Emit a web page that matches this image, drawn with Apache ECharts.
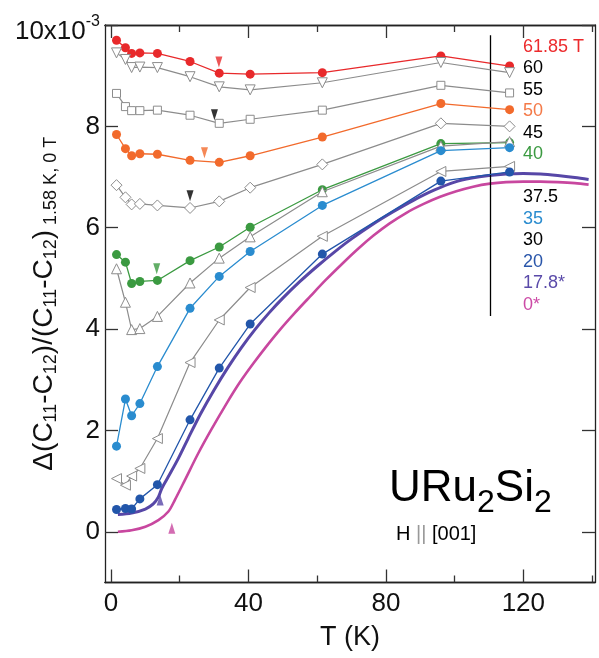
<!DOCTYPE html>
<html><head><meta charset="utf-8">
<script src="https://cdn.jsdelivr.net/npm/echarts@6/dist/echarts.min.js"></script>
<style>html,body{margin:0;padding:0;background:#fff}#c{width:599px;height:658px}</style>
</head><body><div id="c"></div>
<script>
// ---------- data (values in units of 1e-3) ----------
const temps = [1.6, 4.2, 6, 8.4, 13.5, 23, 31.5, 40.5, 61.5, 96, 116];
const h61_85 = [9.70, 9.55, 9.44, 9.45, 9.44, 9.28, 9.05, 9.03, 9.06, 9.39, 9.19];
const h60    = [9.45, 9.32, 9.16, 9.17, 9.16, 8.98, 8.78, 8.72, 8.86, 9.26, 9.06];
const h55    = [8.65, 8.39, 8.31, 8.31, 8.32, 8.22, 8.06, 8.14, 8.32, 8.81, 8.66];
const h50    = [7.84, 7.56, 7.42, 7.46, 7.45, 7.33, 7.29, 7.42, 7.79, 8.45, 8.33];
const h45    = [6.84, 6.60, 6.46, 6.47, 6.44, 6.39, 6.52, 6.79, 7.25, 8.06, 8.00];
const h40    = [5.47, 5.32, 4.90, 4.94, 4.96, 5.35, 5.62, 6.01, 6.75, 7.66, 7.68];
const h37_5  = [5.19, 4.53, 3.99, 4.01, 4.25, 4.91, 5.40, 5.82, 6.71, 7.61, 7.70];
const h35    = [1.69, 2.62, 2.29, 2.53, 3.26, 4.41, 5.04, 5.53, 6.44, 7.52, 7.58];
const h30    = [1.05, 0.92, 1.10, 1.25, 1.84, 3.34, 4.18, 4.82, 5.83, 7.11, 7.21];
const h20    = [0.44, 0.46, 0.45, 0.65, 0.93, 2.21, 3.23, 4.10, 5.48, 6.92, 7.10];

const curveT17_8 = [2, 6, 10, 12.3, 13.8, 14.8, 16.7, 19.6, 22.5, 26, 30, 34, 38, 42, 46, 50, 55, 60, 65, 70, 76, 82, 88, 94, 100, 105, 110, 115, 120, 125, 130, 135, 139];
const curveY17_8 = [0.34, 0.37, 0.45, 0.55, 0.69, 0.86, 1.09, 1.45, 1.85, 2.32, 2.80, 3.24, 3.64, 4.00, 4.32, 4.61, 4.94, 5.24, 5.52, 5.78, 6.06, 6.31, 6.54, 6.74, 6.90, 6.98, 7.03, 7.06, 7.07, 7.06, 7.03, 6.99, 6.95];
const curveT0 = [2, 6, 10, 13.8, 16.7, 18.6, 21.5, 25.4, 29.3, 33.7, 37.5, 41.4, 45, 49.2, 53.5, 57.9, 62.5, 67.6, 72, 76.3, 81, 86.1, 91, 95.8, 100.5, 105.4, 110.3, 115, 120, 125, 130, 135, 139];
const curveY0 = [0.0, 0.03, 0.10, 0.23, 0.40, 0.63, 1.02, 1.55, 2.03, 2.54, 2.95, 3.32, 3.64, 3.99, 4.32, 4.64, 4.97, 5.31, 5.59, 5.84, 6.08, 6.30, 6.47, 6.61, 6.72, 6.81, 6.87, 6.90, 6.91, 6.91, 6.90, 6.88, 6.85];

const transT = [31.4, 30.1, 27.2, 23.0, 13.3, 14.3, 17.7];
const transY = [9.27, 8.23, 7.48, 6.63, 5.19, 0.63, 0.07];

const fieldLabels = ['61.85 T', '60', '55', '50', '45', '40', '37.5', '35', '30', '20', '17.8*', '0*'];
const xMajorTicks = [0, 40, 80, 120];
const xMinorTicks = [20, 60, 100, 140];
const yTicks = [0, 2, 4, 6, 8, 10];
const arrowT = 110.3, arrowY = [4.26, 9.8];

// ---------- styles ----------
const FONT = 'Liberation Sans, Arial, Helvetica, sans-serif';
const GRAY = '#8c8c8c';
const C = {red:'#e8292b', orange:'#f26a2c', green:'#3b9a41', blue:'#2a8ccf', dblue:'#2256aa', purple:'#5747a7', magenta:'#c8479f'};
const pointSeries = [
  {vals:h61_85, color:C.red, symbol:'circle', open:false},
  {vals:h60, color:GRAY, symbol:'triangle', rot:180, open:true},
  {vals:h55, color:GRAY, symbol:'rect', open:true, size:8},
  {vals:h50, color:C.orange, symbol:'circle', open:false},
  {vals:h45, color:GRAY, symbol:'diamond', open:true, size:11},
  {vals:h40, color:C.green, symbol:'circle', open:false},
  {vals:h37_5, color:GRAY, symbol:'triangle', rot:0, open:true},
  {vals:h35, color:C.blue, symbol:'circle', open:false},
  {vals:h30, color:GRAY, symbol:'triangle', rot:90, open:true},
  {vals:h20, color:C.dblue, symbol:'circle', open:false}
];
const labelColors = ['#ec2a2c','#000','#000','#f47a48','#000','#3b9a41','#000','#2a8ccf','#000','#2a56aa','#5a4aa9','#cc4aa6'];
const transColors = [C.red, '#000', C.orange, '#000', C.green, C.purple, C.magenta];
const transRot = [180,180,180,180,180,0,0];

const series = [];
series.push({type:'line', data: curveT0.map((t,i)=>[t,curveY0[i]]), showSymbol:false, smooth:0.3,
  lineStyle:{color:C.magenta, width:2.6}, z:2, silent:true});
series.push({type:'line', data: curveT17_8.map((t,i)=>[t,curveY17_8[i]]), showSymbol:false, smooth:0.3,
  lineStyle:{color:C.purple, width:3}, z:3, silent:true});
pointSeries.forEach((s, k) => {
  series.push({
    type:'line', data: temps.map((t,i)=>[t, s.vals[i]]),
    symbol: s.symbol, symbolRotate: s.rot || 0,
    symbolSize: s.size || (s.open ? 10 : 9),
    lineStyle:{color:s.color, width: s.open ? 1.2 : 1.3},
    itemStyle: s.open ? {color:'#fff', borderColor:s.color, borderWidth:1} : {color:s.color, borderWidth:0},
    z: 4 + k, silent:true,
    markLine: k === 0 ? {
      silent:true, symbol:['none','arrow'], symbolSize:[0,11], label:{show:false},
      lineStyle:{color:'#000', width:1.3, type:'solid'},
      data:[[{coord:[arrowT, arrowY[0]]},{coord:[arrowT, arrowY[1]]}]]
    } : undefined
  });
});
series.push({type:'scatter', silent:true, z:20,
  data: transT.map((t,i)=>({value:[t, transY[i]], symbolRotate: transRot[i], itemStyle:{color: transColors[i]}})),
  symbol:'triangle', symbolSize:[7,11]});

const tickStyle = {lineStyle:{color:'#333', width:1.3}};
const axisLine = {show:true, onZero:false, lineStyle:{color:'#222', width:1.3}};
const XMIN = -1.75, XMAX = 140.86, YMIN = -1, YMAX = 10;
function xAx(pos, ticks, len, labels) {
  return {type:'value', position:pos, min:XMIN, max:XMAX, axisLine,
    splitLine:{show:false},
    axisTick:{show:true, inside:true, length:len, customValues:ticks, ...tickStyle},
    axisLabel: labels ? {show:true, customValues:ticks, fontSize:26, fontFamily:FONT, color:'#111', margin:8} : {show:false},
    name: labels ? 'T (K)' : '', nameLocation:'middle', nameGap:42, nameMoveOverlap:false,
    nameTextStyle:{fontSize:27, fontFamily:FONT, color:'#111'}};
}
const option = {
  animation:false,
  backgroundColor:'#fff',
  grid:{left:105, top:25, width:490, height:557.5, containLabel:false, outerBoundsMode:'none'},
  xAxis:[xAx('bottom', xMajorTicks, 13, true), xAx('bottom', xMinorTicks, 7, false),
         xAx('top', xMajorTicks, 13, false), xAx('top', xMinorTicks, 7, false)],
  yAxis:[
    {type:'value', position:'left', min:YMIN, max:YMAX, axisLine, splitLine:{show:false},
     axisTick:{show:true, inside:true, length:13, customValues:yTicks, ...tickStyle},
     axisLabel:{show:true, customValues:yTicks, fontSize:26, fontFamily:FONT, color:'#111', margin:5,
       formatter: v => v === 10 ? '{m|10x10}{sup|-3}{z|\u200b}' : String(v),
       rich:{m:{fontSize:26, fontFamily:FONT, color:'#111', lineHeight:30, verticalAlign:'bottom'},
             sup:{fontSize:16, fontFamily:FONT, color:'#111', lineHeight:26, verticalAlign:'top', padding:[9,0,0,0]},
             z:{fontSize:4, lineHeight:40}}},
     name:'Δ(C{s|11}-C{s|12})/(C{s|11}-C{s|12}){s| 1.58 K, 0 T}', nameLocation:'middle', nameRotate:90, nameGap:45,
     nameMoveOverlap:false,
     nameTextStyle:{fontSize:28, fontFamily:FONT, color:'#111', lineHeight:32,
       rich:{s:{fontSize:18, fontFamily:FONT, color:'#111', lineHeight:17, verticalAlign:'bottom'}}}},
    {type:'value', position:'right', min:YMIN, max:YMAX, axisLine, splitLine:{show:false},
     axisTick:{show:true, inside:true, length:13, customValues:yTicks, ...tickStyle}, axisLabel:{show:false}}
  ],
  series: series,
  graphic: [
    ...fieldLabels.map((txt, i) => ({type:'text', left:523, top: 38 + i*21.5 + (i >= 6 ? 21.5 : 0), silent:true,
      style:{text:txt, fill:labelColors[i], font:'18px ' + FONT}})),
    {type:'text', left:389, top:467, silent:true,
      style:{text:'{m|URu}{s|2}{m|Si}{s|2}', fill:'#000',
        rich:{m:{fontSize:44, fontFamily:FONT, lineHeight:60, fill:'#000'},
              s:{fontSize:32, fontFamily:FONT, lineHeight:32, verticalAlign:'bottom', fill:'#000'}}}},
    {type:'text', left:396, top:524, silent:true,
      style:{text:'H {g|||} [001]', fill:'#000', font:'20px ' + FONT,
        rich:{g:{fontSize:20, fontFamily:FONT, fill:'#999'}}}}
  ]
};
const chart = echarts.init(document.getElementById('c'), null, {renderer:'canvas'});
chart.setOption(option);
</script></body></html>
